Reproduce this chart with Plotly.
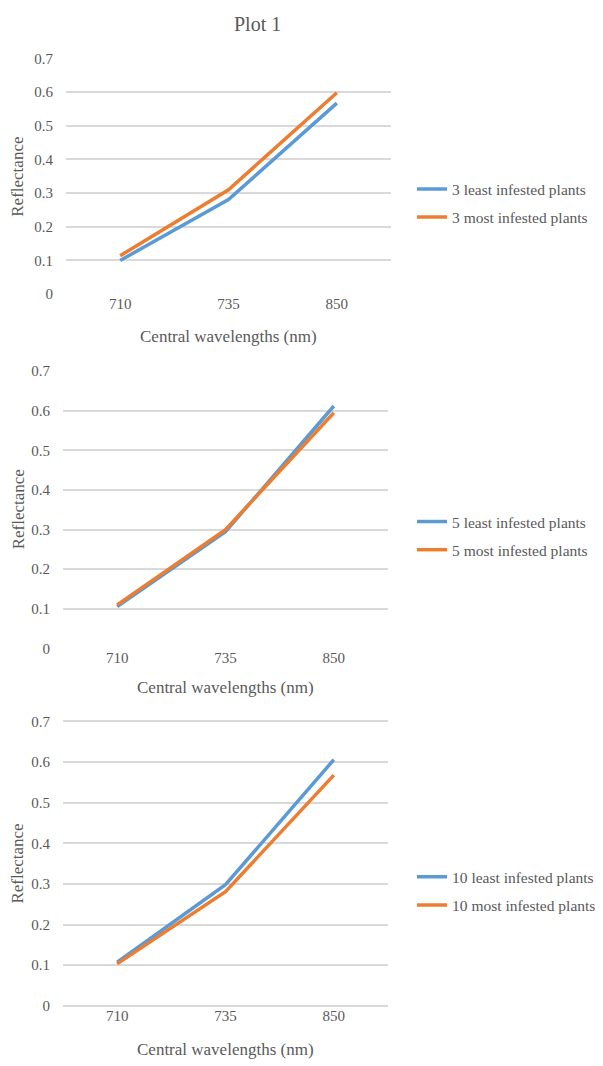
import plotly.graph_objects as go

categories = ["710", "735", "850"]
least_3 = [0.100, 0.281, 0.567]
most_3 = [0.114, 0.310, 0.598]
least_5 = [0.106, 0.295, 0.612]
most_5 = [0.110, 0.300, 0.595]
least_10 = [0.107, 0.298, 0.606]
most_10 = [0.103, 0.281, 0.568]
yticks = [0, 0.1, 0.2, 0.3, 0.4, 0.5, 0.6, 0.7]
ytick_text = ["0", "0.1", "0.2", "0.3", "0.4", "0.5", "0.6", "0.7"]

W, H = 603, 1066
BLUE = "#5B9BD5"
ORANGE = "#ED7D31"
GRID = "#D9D9D9"
TXT = "#595959"
FONT = "Liberation Serif, Times New Roman, serif"

panels = [
    dict(least=least_3, most=most_3, n=3, x0=66, x1=391, ytop=52, ybot=291,
         leg_y=199, xt_y=334, yt_y=172),
    dict(least=least_5, most=most_5, n=5, x0=63, x1=388, ytop=369, ybot=650,
         leg_y=536, xt_y=690, yt_y=509),
    dict(least=least_10, most=most_10, n=10, x0=63, x1=388, ytop=724, ybot=1012,
         leg_y=896, xt_y=1056, yt_y=868),
]

fig = go.Figure()
annotations = []
pad = 0.0025
for i, p in enumerate(panels, start=1):
    sfx = "" if i == 1 else str(i)
    leg = "legend" if i == 1 else f"legend{i}"
    fig.add_trace(go.Scatter(x=categories, y=p["least"], mode="lines",
                             name=f"{p['n']} least infested plants",
                             line=dict(color=BLUE, width=3.5),
                             legendgroup=f"l{i}",
                             xaxis="x" + sfx, yaxis="y" + sfx, legend=leg))
    fig.add_trace(go.Scatter(x=categories, y=p["most"], mode="lines",
                             name=f"{p['n']} most infested plants",
                             line=dict(color=ORANGE, width=3.5),
                             legendgroup=f"m{i}",
                             xaxis="x" + sfx, yaxis="y" + sfx, legend=leg))
    span = p["ybot"] - p["ytop"]
    ppx = pad / 0.7 * span
    xdom = [p["x0"] / W, p["x1"] / W]
    ydom = [(H - p["ybot"] - ppx) / H, (H - p["ytop"] + ppx) / H]
    fig.update_layout(**{
        "xaxis" + sfx: dict(domain=xdom, anchor="y" + sfx, type="category",
                            range=[-0.5, 2.5], showgrid=False, zeroline=False,
                            showline=False, ticks="",
                            tickfont=dict(family=FONT, size=15, color=TXT),
                            ticklabelstandoff=-2),
        "yaxis" + sfx: dict(domain=ydom, anchor="x" + sfx, range=[-pad, 0.7 + pad],
                            tickvals=yticks, ticktext=ytick_text,
                            showgrid=True, gridcolor=GRID, gridwidth=1.5,
                            zeroline=False, showline=False, ticks="",
                            tickfont=dict(family=FONT, size=15, color=TXT),
                            ticklabelstandoff=12),
        leg: dict(x=412 / W, xanchor="left", y=(H - p["leg_y"]) / H,
                  yanchor="middle", bgcolor="rgba(0,0,0,0)",
                  font=dict(family=FONT, size=15.5, color=TXT),
                  itemwidth=30, tracegroupgap=5),
    })
    annotations.append(dict(text="Central wavelengths (nm)", xref="paper", yref="paper",
                            x=(p["x0"] + p["x1"]) / 2 / W, y=(H - p["xt_y"]) / H,
                            xanchor="center", yanchor="middle", showarrow=False,
                            font=dict(family=FONT, size=17, color=TXT)))
    annotations.append(dict(text="Reflectance", xref="paper", yref="paper",
                            x=18 / W, y=(H - p["yt_y"]) / H, textangle=-90,
                            xanchor="center", yanchor="middle", showarrow=False,
                            font=dict(family=FONT, size=17, color=TXT)))

annotations.append(dict(text="Plot 1", xref="paper", yref="paper",
                        x=257 / W, y=(H - 17) / H, xanchor="center", yanchor="middle",
                        showarrow=False, font=dict(family=FONT, size=20, color=TXT)))

fig.update_layout(width=W, height=H, margin=dict(l=0, r=0, t=0, b=0),
                  paper_bgcolor="white", plot_bgcolor="white",
                  annotations=annotations, showlegend=True)

fig.write_html("out.html", config={"displayModeBar": False},
               post_script="document.body.style.margin='0';document.body.style.overflow='hidden';")
